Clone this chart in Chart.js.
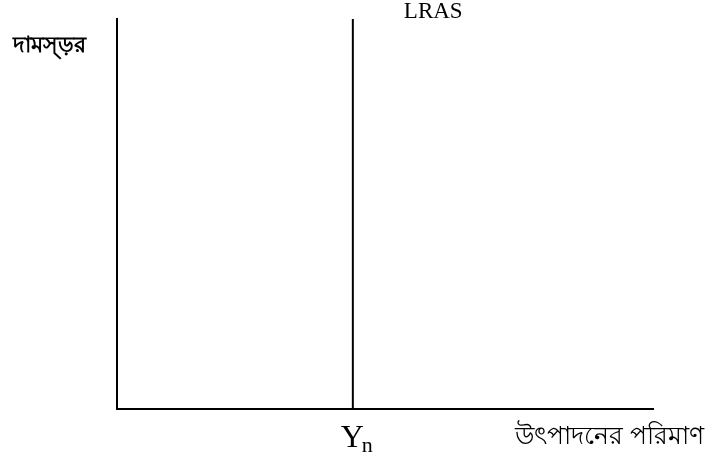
<!DOCTYPE html>
<html>
<head>
<meta charset="utf-8">
<script src="https://cdn.jsdelivr.net/npm/chart.js@4.4.0/dist/chart.umd.min.js"></script>
<style>
  html, body { margin: 0; padding: 0; background: #fff; }
  #wrap { width: 709px; height: 455px; }
</style>
</head>
<body>
<div id="wrap"><canvas id="chart"></canvas></div>
<script>
// Данные графика
const xRange = [0, 100];
const yRange = [0, 100];
const lrasX = [44, 44];
const lrasY = [0, 100];
const labels = {
    yAxis: 'দামস্ড়র',
    xAxis: 'উৎপাদনের পরিমাণ',
    curve: 'LRAS',
    tick: 'Y',
    tickSub: 'n'
};

// Подписи рисуем поверх графика
const textPlugin = {
    id: 'textPlugin',
    afterDraw(chart) {
        const ctx = chart.ctx;
        const x = chart.scales.x;
        const y = chart.scales.y;
        const px = x.getPixelForValue(lrasX[0]);
        ctx.save();
        ctx.fillStyle = '#000';
        ctx.textBaseline = 'alphabetic';
        ctx.textAlign = 'left';

        ctx.font = '23px "Liberation Serif", serif';
        ctx.fillText(labels.curve, px + 51, 18);

        ctx.font = '32px "Liberation Serif", serif';
        ctx.fillText(labels.tick, px - 12, y.bottom + 38);
        ctx.font = '22px "Liberation Serif", serif';
        ctx.fillText(labels.tickSub, px + 9, y.bottom + 43);

        ctx.font = 'bold 22px sans-serif';
        ctx.fillText(labels.yAxis, 13, 52);

        ctx.font = '24.5px sans-serif';
        ctx.textAlign = 'right';
        ctx.fillText(labels.xAxis, 704, y.bottom + 35);
        ctx.restore();
    }
};

new Chart(document.getElementById('chart').getContext('2d'), {
    type: 'scatter',
    data: {
        datasets: [{
            label: labels.curve,
            data: lrasX.map((v, i) => ({ x: v, y: lrasY[i] })),
            showLine: true,
            borderColor: '#000',
            borderWidth: 2,
            pointRadius: 0
        }]
    },
    options: {
        responsive: true,
        maintainAspectRatio: false,
        animation: false,
        layout: { padding: { left: 109, top: 19, right: 56, bottom: 38 } },
        scales: {
            x: {
                type: 'linear', min: xRange[0], max: xRange[1],
                grid: { display: false },
                border: { display: true, color: '#000', width: 2 },
                ticks: { display: false }
            },
            y: {
                type: 'linear', min: yRange[0], max: yRange[1],
                grid: { display: false },
                border: { display: true, color: '#000', width: 2 },
                ticks: { display: false }
            }
        },
        plugins: { legend: { display: false }, tooltip: { enabled: false } }
    },
    plugins: [textPlugin]
});
</script>
</body>
</html>
